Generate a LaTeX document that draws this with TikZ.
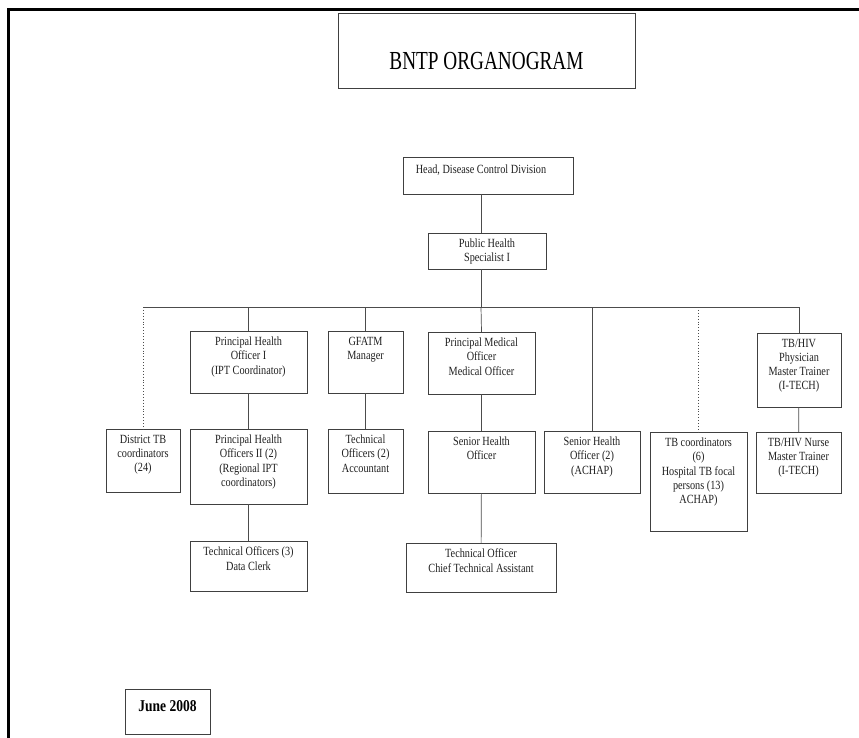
\documentclass[tikz,border=0pt]{standalone}
\usepackage{fontspec}
\setmainfont{Liberation Serif}[FakeStretch=0.82]
\newfontfamily\titlefont{Liberation Serif}[FakeStretch=0.74]
\usetikzlibrary{calc}
\definecolor{LineClr}{gray}{0.3}
\definecolor{BoxClr}{gray}{0.25}
\definecolor{TextClr}{gray}{0.12}

\begin{document}
\begin{tikzpicture}[x=1pt,y=-1pt,
  box/.style={draw=BoxClr,line width=0.8pt,inner sep=0pt,outer sep=0pt},
  boxtext/.style={anchor=north,align=center,inner sep=0pt,text=TextClr,
    font=\fontsize{12.5}{14.2}\selectfont,execute at begin node=\strut,yshift=-5.9pt},
  link/.style={draw=LineClr,line width=0.7pt},
  dots/.style={draw=LineClr,line width=0.9pt,dotted}]
\useasboundingbox (0,0) rectangle (859,738);

% page frame
\draw[line width=3pt] (859,10) -- (8,10) -- (8,738);

\node[box,minimum width=297,minimum height=75] (title) at (486.5,50.5) {};
\node[anchor=base,inner sep=0pt,font=\titlefont\fontsize{26}{30}\selectfont] (title-t) at ([yshift=-57pt]title.north) {BNTP ORGANOGRAM};

% top of the chart
\node[box,minimum width=170,minimum height=37] (head) at (488,175.5) {};
\node[boxtext,xshift=-7pt] (head-t) at (head.north) {Head, Disease Control Division};
\node[box,minimum width=118,minimum height=36] (phs) at (487,251) {};
\node[boxtext] (phs-t) at (phs.north) {Public Health\\Specialist I};

% first row
\node[box,minimum width=117,minimum height=62] (pho1) at (248.5,362) {};
\node[boxtext] (pho1-t) at (pho1.north) {Principal Health\\Officer I\\(IPT Coordinator)};
\node[box,minimum width=75,minimum height=62] (gfatm) at (365.5,362) {};
\node[boxtext] (gfatm-t) at (gfatm.north) {GFATM\\Manager};
\node[box,minimum width=107,minimum height=62] (pmo) at (481.5,363) {};
\node[boxtext] (pmo-t) at (pmo.north) {Principal Medical\\Officer\\Medical Officer};
\node[box,minimum width=84,minimum height=74] (phys) at (799,370) {};
\node[boxtext] (phys-t) at (phys.north) {TB/HIV\\Physician\\Master Trainer\\(I-TECH)};

% second row
\node[box,minimum width=74,minimum height=63] (dist) at (143,460.5) {};
\node[boxtext] (dist-t) at (dist.north) {District TB\\coordinators\\(24)};
\node[box,minimum width=117,minimum height=75] (pho2) at (248.5,466.5) {};
\node[boxtext] (pho2-t) at (pho2.north) {Principal Health\\Officers II (2)\\(Regional IPT\\coordinators)};
\node[box,minimum width=75,minimum height=64] (tech2) at (365.5,461) {};
\node[boxtext] (tech2-t) at (tech2.north) {Technical\\Officers (2)\\Accountant};
\node[box,minimum width=107,minimum height=62] (sho) at (481.5,462) {};
\node[boxtext] (sho-t) at (sho.north) {Senior Health\\Officer};
\node[box,minimum width=96,minimum height=62] (sho2) at (592,462) {};
\node[boxtext] (sho2-t) at (sho2.north) {Senior Health\\Officer (2)\\(ACHAP)};
\node[box,minimum width=97,minimum height=99] (tbc) at (698.5,481.5) {};
\node[boxtext] (tbc-t) at (tbc.north) {TB coordinators\\(6)\\Hospital TB focal\\persons (13)\\ACHAP)};
\node[box,minimum width=85,minimum height=61] (nurse) at (798.5,462.5) {};
\node[boxtext] (nurse-t) at (nurse.north) {TB/HIV Nurse\\Master Trainer\\(I-TECH)};

% third row
\node[box,minimum width=117,minimum height=50] (tech3) at (248.5,566) {};
\node[boxtext] (tech3-t) at (tech3.north) {Technical Officers (3)\\Data Clerk};
\node[box,minimum width=150,minimum height=49] (chief) at (481,567.5) {};
\node[boxtext] (chief-t) at (chief.north) {Technical Officer\\Chief Technical Assistant};

\node[box,minimum width=85,minimum height=45] (june) at (167.5,711.5) {};
\node[anchor=base,inner sep=0pt,font=\fontsize{16.5}{19}\bfseries] (june-t) at ([yshift=-22pt]june.north) {June 2008};

% connectors
\coordinate (split) at (481,307);
\draw[link] (head.south -| split) -- (phs.north -| split);
\draw[link] (phs.south -| split) -- (split);
\draw[link] (dist.north |- split) -- (phys.north |- split);
\draw[link] (pho1.north |- split) -- (pho1.north);
\draw[link] (gfatm.north |- split) -- (gfatm.north);
\draw[link] (split) -- (pmo.north);
\draw[link] (sho2.north |- split) -- (sho2.north);
\draw[link] (phys.north |- split) -- (phys.north);
\draw[dots] (dist.north |- split) -- (dist.north);
\draw[dots] (tbc.north |- split) -- (tbc.north);

\draw[link] (pho1) -- (pho2);
\draw[link] (pho2) -- (tech3);
\draw[link] (gfatm) -- (tech2);
\draw[link] (pmo) -- (sho);
\draw[link] (sho) -- (chief);
\draw[link] (phys) -- (nurse);
\end{tikzpicture}
\end{document}
